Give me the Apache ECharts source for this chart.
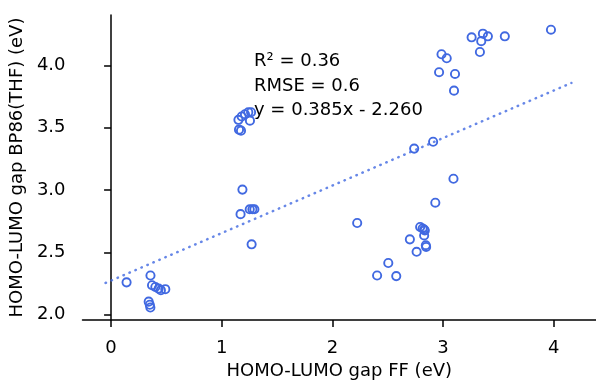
<!DOCTYPE html>
<html>
<head>
<meta charset="utf-8">
<script src="https://cdn.jsdelivr.net/npm/echarts@6/dist/echarts.min.js"></script>
<style>
  html, body { margin: 0; padding: 0; background: #fff; }
  #chart { width: 596px; height: 385px; }
</style>
</head>
<body>
<div id="chart"></div>
<script>
// FF gap (x) vs BP86(THF) gap (y)
const gapFF = [
  0.14, 0.356, 0.37, 0.40, 0.43, 0.45, 0.49, 0.34, 0.35, 0.355,
  1.187, 1.17, 1.253, 1.277, 1.295, 1.27,
  1.151, 1.18, 1.21, 1.24, 1.265, 1.255, 1.156, 1.174,
  3.094, 2.93, 2.224, 2.793, 2.815, 2.829, 2.835, 2.829, 2.70, 2.844, 2.847, 2.761, 2.505, 2.404, 2.577,
  3.975, 3.558, 3.258, 3.36, 3.405, 3.345, 3.333, 2.986, 3.033, 2.964, 3.108, 3.099, 2.91, 2.739
];
const gapBP86 = [
  2.26, 2.315, 2.237, 2.223, 2.21, 2.197, 2.205, 2.105, 2.08, 2.058,
  3.004, 2.807, 2.846, 2.846, 2.846, 2.565,
  3.564, 3.591, 3.609, 3.625, 3.625, 3.557, 3.485, 3.477,
  3.091, 2.899, 2.736, 2.704, 2.692, 2.684, 2.676, 2.636, 2.605, 2.558, 2.544, 2.505, 2.415, 2.315, 2.31,
  4.287, 4.234, 4.226, 4.255, 4.234, 4.195, 4.108, 4.09, 4.058, 3.946, 3.932, 3.798, 3.388, 3.333
];
// fitted line end points
const fitX = [-0.05, 4.16];
const fitY = [2.255, 3.86];
const xTicks = [0, 1, 2, 3, 4];
const yTicks = [2.0, 2.5, 3.0, 3.5, 4.0];
const statsText = ["R\u00b2 = 0.36", "RMSE = 0.6", "y = 0.385x - 2.260"];

const font = "DejaVu Sans";
const blue = "#4169E1";

const chart = echarts.init(document.getElementById("chart"));

const axisCommon = {
  type: "value",
  nameLocation: "middle",
  nameTextStyle: { fontFamily: font, fontSize: 18, color: "#000" },
  axisLine: { show: true, lineStyle: { color: "#000", width: 1.5 } },
  splitLine: { show: false },
};

chart.setOption({
  animation: false,
  grid: { left: 80, right: 0, top: 15, bottom: 60 },
  xAxis: {
    ...axisCommon,
    min: -0.258,
    max: 4.382,
    name: "HOMO-LUMO gap FF (eV)",
    nameGap: 41,
    axisTick: { show: true, length: 7, customValues: xTicks, lineStyle: { color: "#000", width: 1.5 } },
    axisLabel: {
      customValues: xTicks,
      margin: 19,
      fontFamily: font,
      fontSize: 18,
      color: "#000",
      formatter: (v) => String(Math.round(v)),
    },
  },
  yAxis: {
    ...axisCommon,
    min: 1.957,
    max: 4.405,
    name: "HOMO-LUMO gap BP86(THF) (eV)",
    nameGap: 48,
    axisTick: { show: true, length: 7, customValues: yTicks, lineStyle: { color: "#000", width: 1.5 } },
    axisLabel: {
      customValues: yTicks,
      margin: 17,
      fontFamily: font,
      fontSize: 18,
      color: "#000",
      formatter: (v) => v.toFixed(1),
    },
  },
  graphic: [
    {
      type: "text",
      left: 254,
      top: 49,
      style: {
        text: statsText.join("\n"),
        font: "18px " + font,
        fill: "#000",
        lineHeight: 24.7,
      },
    },
  ],
  series: [
    {
      type: "line",
      data: fitX.map((x, i) => [x, fitY[i]]),
      showSymbol: false,
      silent: true,
      lineStyle: {
        color: "rgba(65,105,225,0.8)",
        width: 2.5,
        type: [0.5, 6],
        cap: "round",
      },
    },
    {
      type: "scatter",
      data: gapFF.map((x, i) => [x, gapBP86[i]]),
      symbol: "circle",
      symbolSize: 8.2,
      itemStyle: {
        color: "rgba(0,0,0,0)",
        borderColor: blue,
        borderWidth: 1.9,
        opacity: 1,
      },
    },
  ],
});
</script>
</body>
</html>
